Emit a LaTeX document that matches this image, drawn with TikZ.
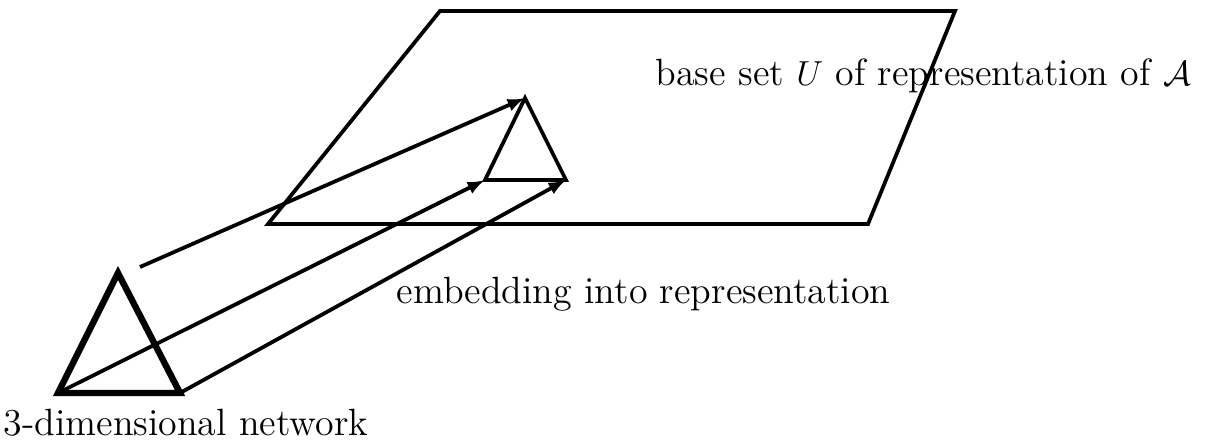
\documentclass[tikz,border=0pt]{standalone}
\usetikzlibrary{arrows.meta}
\begin{document}
\begin{tikzpicture}[x=0.345pt,y=-0.345pt,
  thinline/.style={line width=1.3pt},
  thickline/.style={line width=2.2pt, line join=miter},
  arr/.style={thinline,-{Latex[length=6pt,width=4.5pt]}},
  lbl/.style={inner sep=0pt, font=\fontsize{13.1}{16}\selectfont}]
\useasboundingbox (0,0) rectangle (1205,443);
% parallelogram
\coordinate (p1) at (440,11);
\coordinate (p2) at (955,11);
\coordinate (p3) at (868,224);
\coordinate (p4) at (268,224);
\draw[thinline] (p1) -- (p2) -- (p3) -- (p4) -- cycle;
% small triangle
\coordinate (sa) at (525,98);
\coordinate (sl) at (485,180);
\coordinate (sr) at (566,180);
\draw[thinline] (sa) -- (sr) -- (sl) -- cycle;
% big triangle
\coordinate (ba) at (118,273);
\coordinate (bl) at (58,393);
\coordinate (br) at (180,393);
\draw[thickline] (ba) -- (br) -- (bl) -- cycle;
\coordinate (bs) at (140,267);
% arrows
\draw[arr] (bs) -- (sa);
\draw[arr] (bl) -- (sl);
\draw[arr] (br) -- (sr);
% labels
\node[lbl, anchor=base west] (t1) at (655,86) {base set $U$ of representation of $\mathcal{A}$};
\node[lbl, anchor=base west] (t2) at (396,304) {embedding into representation};
\node[lbl, anchor=base west] (t3) at (3,436) {3-dimensional network};
\end{tikzpicture}
\end{document}
